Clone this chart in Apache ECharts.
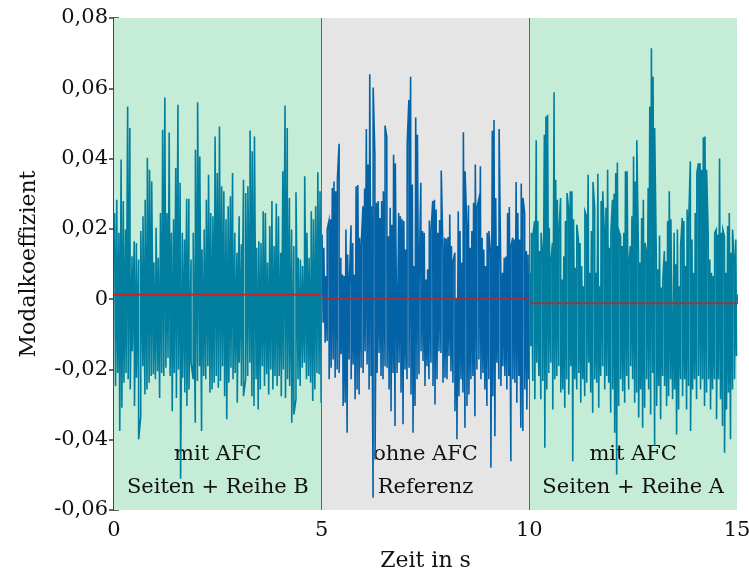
<!DOCTYPE html>
<html>
<head>
<meta charset="utf-8">
<title>Modalkoeffizient</title>
<script src="https://cdn.jsdelivr.net/npm/echarts@6/dist/echarts.min.js"></script>
<style>
  html, body { margin: 0; padding: 0; background: #ffffff; }
  #chart { width: 749px; height: 575px; }
</style>
</head>
<body>
<div id="chart"></div>
<script>
// Segment boundaries along the time axis (s)
const segmentBounds = [0, 5, 10, 15];
const segmentTop = ['mit AFC', 'ohne AFC', 'mit AFC'];
const segmentBottom = ['Seiten + Reihe B', 'Referenz', 'Seiten + Reihe A'];
const segmentFill = ['#c4ecd7', '#e5e5e5', '#c4ecd7'];
const segmentLine = ['#027f9f', '#0463a7', '#027f9f'];

// Mean value of the modal coefficient in each segment
const segmentMean = [0.0013, 0.0000, -0.0012];

// Y tick values
const yTicks = [-0.06, -0.04, -0.02, 0, 0.02, 0.04, 0.06, 0.08];

// Local maxima of the signal, segment 1 (0–5 s)
const peaksB = [0.0245, 0.0283, 0.0189, 0.0397, 0.0279, 0.0198, 0.0548, 0.0487, 0.0122, 0.0165,
  0.0160, 0.0113, 0.0194, 0.0236, 0.0283, 0.0402, 0.0368, 0.0335, 0.0104, 0.0203,
  0.0118, 0.0245, 0.0482, 0.0574, 0.0245, 0.0474, 0.0189, 0.0227, 0.0373, 0.0553,
  0.0331, 0.0189, 0.0170, 0.0286, 0.0286, 0.0113, 0.0189, 0.0425, 0.0560, 0.0406,
  0.0141, 0.0198, 0.0283, 0.0354, 0.0245, 0.0236, 0.0463, 0.0359, 0.0491, 0.0321,
  0.0307, 0.0227, 0.0264, 0.0293, 0.0359, 0.0189, 0.0132, 0.0236, 0.0156, 0.0340,
  0.0302, 0.0321, 0.0480, 0.0421, 0.0463, 0.0146, 0.0165, 0.0160, 0.0250, 0.0245,
  0.0104, 0.0208, 0.0279, 0.0151, 0.0272, 0.0236, 0.0132, 0.0364, 0.0551, 0.0487,
  0.0288, 0.0198, 0.0151, 0.0304, 0.0118, 0.0113, 0.0094, 0.0350, 0.0189, 0.0118,
  0.0250, 0.0227, 0.0264, 0.0361, 0.0307];

// Local minima of the signal, segment 1 (0–5 s)
const troughsB = [-0.0247, -0.0210, -0.0375, -0.0309, -0.0238, -0.0210, -0.0228, -0.0257, -0.0148, -0.0304,
  -0.0224, -0.0399, -0.0333, -0.0191, -0.0271, -0.0257, -0.0238, -0.0219, -0.0214, -0.0228,
  -0.0205, -0.0281, -0.0210, -0.0219, -0.0195, -0.0167, -0.0219, -0.0319, -0.0210, -0.0281,
  -0.0200, -0.0511, -0.0224, -0.0266, -0.0304, -0.0257, -0.0181, -0.0228, -0.0352, -0.0233,
  -0.0191, -0.0375, -0.0219, -0.0228, -0.0191, -0.0266, -0.0257, -0.0238, -0.0219, -0.0252,
  -0.0233, -0.0191, -0.0276, -0.0342, -0.0238, -0.0195, -0.0228, -0.0210, -0.0295, -0.0181,
  -0.0247, -0.0276, -0.0228, -0.0219, -0.0181, -0.0276, -0.0304, -0.0228, -0.0314, -0.0257,
  -0.0191, -0.0247, -0.0214, -0.0271, -0.0200, -0.0257, -0.0219, -0.0247, -0.0219, -0.0276,
  -0.0200, -0.0281, -0.0228, -0.0247, -0.0352, -0.0328, -0.0285, -0.0228, -0.0247, -0.0195,
  -0.0181, -0.0228, -0.0219, -0.0238, -0.0290, -0.0257, -0.0210, -0.0214, -0.0295];

// Local maxima, segment 2 (5–10 s, reference without AFC)
const peaksRef = [0.0184, 0.0146, 0.0066, 0.0198, 0.0222, 0.0227, 0.0316, 0.0335, 0.0307, 0.0343,
  0.0442, 0.0118, 0.0070, 0.0066, 0.0198, 0.0127, 0.0042, 0.0210, 0.0160, 0.0070,
  0.0321, 0.0325, 0.0175, 0.0153, 0.0264, 0.0315, 0.0484, 0.0383, 0.0640, 0.0264,
  0.0602, 0.0414, 0.0274, 0.0279, 0.0231, 0.0279, 0.0307, 0.0494, 0.0461, 0.0179,
  0.0260, 0.0212, 0.0411, 0.0387, 0.0390, 0.0245, 0.0236, 0.0227, 0.0222, 0.0141,
  0.0444, 0.0567, 0.0633, 0.0326, 0.0094, 0.0517, 0.0468, 0.0042, 0.0331, 0.0194,
  0.0189, 0.0056, 0.0085, 0.0224, 0.0194, 0.0279, 0.0283, 0.0255, 0.0189, 0.0225,
  0.0366, 0.0132, 0.0175, 0.0172, 0.0177, 0.0241, 0.0151, 0.0108, 0.0132, 0.0004,
  0.0250, 0.0194, 0.0104, 0.0475, 0.0364, 0.0208, 0.0267, 0.0146, 0.0194, 0.0274,
  0.0383, 0.0260, 0.0283, 0.0378, 0.0175, 0.0141, 0.0094, 0.0189, 0.0194, 0.0127,
  0.0479, 0.0510, 0.0288, 0.0151, 0.0484, 0.0066, 0.0075, 0.0118, 0.0121, 0.0245,
  0.0262, 0.0151, 0.0175, 0.0170, 0.0333, 0.0245, 0.0170, 0.0329, 0.0288, 0.0245,
  0.0137, 0.0127];

// Local minima, segment 2 (5–10 s)
const troughsRef = [-0.0067, -0.0124, -0.0119, -0.0228, -0.0195, -0.0172, -0.0224, -0.0200, -0.0210, -0.0157,
  -0.0304, -0.0295, -0.0380, -0.0172, -0.0228, -0.0186, -0.0285, -0.0257, -0.0271, -0.0195,
  -0.0210, -0.0148, -0.0186, -0.0257, -0.0219, -0.0565, -0.0456, -0.0210, -0.0153, -0.0219,
  -0.0228, -0.0191, -0.0195, -0.0257, -0.0319, -0.0210, -0.0361, -0.0210, -0.0181, -0.0266,
  -0.0356, -0.0200, -0.0228, -0.0195, -0.0271, -0.0380, -0.0304, -0.0228, -0.0214, -0.0148,
  -0.0176, -0.0247, -0.0191, -0.0228, -0.0181, -0.0247, -0.0300, -0.0228, -0.0148, -0.0153,
  -0.0238, -0.0224, -0.0228, -0.0162, -0.0205, -0.0238, -0.0319, -0.0399, -0.0276, -0.0228,
  -0.0266, -0.0366, -0.0304, -0.0271, -0.0228, -0.0219, -0.0333, -0.0200, -0.0172, -0.0228,
  -0.0210, -0.0257, -0.0304, -0.0228, -0.0480, -0.0276, -0.0390, -0.0181, -0.0228, -0.0247,
  -0.0191, -0.0219, -0.0257, -0.0219, -0.0461, -0.0228, -0.0238, -0.0295, -0.0219, -0.0366,
  -0.0375, -0.0257, -0.0314, -0.0228];

// Local maxima, segment 3 (10–15 s)
const peaksA = [0.0075, 0.0189, 0.0184, 0.0222, 0.0452, 0.0222, 0.0137, 0.0189, 0.0113, 0.0468,
  0.0520, 0.0525, 0.0203, 0.0104, 0.0160, 0.0589, 0.0340, 0.0283, 0.0189, 0.0288,
  0.0056, 0.0122, 0.0222, 0.0302, 0.0255, 0.0307, 0.0307, 0.0227, 0.0089, 0.0212,
  0.0170, 0.0160, 0.0094, 0.0037, 0.0250, 0.0236, 0.0354, 0.0075, 0.0194, 0.0333,
  0.0260, 0.0075, 0.0357, 0.0037, 0.0279, 0.0307, 0.0189, 0.0260, 0.0368, 0.0146,
  0.0189, 0.0283, 0.0300, 0.0359, 0.0389, 0.0194, 0.0179, 0.0151, 0.0189, 0.0364,
  0.0364, 0.0094, 0.0151, 0.0236, 0.0406, 0.0335, 0.0452, 0.0132, 0.0104, 0.0231,
  0.0283, 0.0160, 0.0132, 0.0316, 0.0548, 0.0714, 0.0633, 0.0487, 0.0127, 0.0085,
  0.0181, 0.0033, 0.0056, 0.0137, 0.0108, 0.0222, 0.0307, 0.0227, 0.0231, 0.0189,
  0.0099, 0.0198, 0.0037, 0.0151, 0.0231, 0.0222, 0.0094, 0.0255, 0.0227, 0.0392,
  0.0170, 0.0075, 0.0245, 0.0359, 0.0387, 0.0387, 0.0368, 0.0461, 0.0463, 0.0368,
  0.0184, 0.0113, 0.0075, 0.0066, 0.0189, 0.0198, 0.0184, 0.0400, 0.0189, 0.0198,
  0.0179, 0.0075, 0.0208, 0.0245, 0.0132, 0.0198, 0.0113, 0.0170];

// Local minima, segment 3 (10–15 s)
const troughsA = [-0.0134, -0.0233, -0.0285, -0.0181, -0.0219, -0.0285, -0.0233, -0.0423, -0.0257, -0.0210,
  -0.0181, -0.0314, -0.0228, -0.0219, -0.0191, -0.0266, -0.0257, -0.0309, -0.0228, -0.0271,
  -0.0191, -0.0461, -0.0228, -0.0257, -0.0210, -0.0295, -0.0228, -0.0276, -0.0238, -0.0181,
  -0.0266, -0.0323, -0.0228, -0.0238, -0.0309, -0.0219, -0.0191, -0.0257, -0.0219, -0.0238,
  -0.0323, -0.0257, -0.0380, -0.0499, -0.0304, -0.0228, -0.0262, -0.0295, -0.0219, -0.0257,
  -0.0191, -0.0228, -0.0295, -0.0266, -0.0337, -0.0257, -0.0366, -0.0309, -0.0228, -0.0257,
  -0.0328, -0.0210, -0.0418, -0.0304, -0.0247, -0.0342, -0.0219, -0.0247, -0.0304, -0.0276,
  -0.0228, -0.0285, -0.0257, -0.0385, -0.0314, -0.0228, -0.0276, -0.0228, -0.0314, -0.0247,
  -0.0375, -0.0257, -0.0228, -0.0285, -0.0219, -0.0257, -0.0228, -0.0304, -0.0266, -0.0228,
  -0.0314, -0.0257, -0.0228, -0.0342, -0.0228, -0.0285, -0.0361, -0.0437, -0.0314, -0.0266,
  -0.0399, -0.0257, -0.0228, -0.0162];

const segmentPeaks = [peaksB, peaksRef, peaksA];
const segmentTroughs = [troughsB, troughsRef, troughsA];

// Put the maxima and minima of a segment on a common time grid and interleave them
function segmentSeries(k) {
  const t0 = segmentBounds[k], t1 = segmentBounds[k + 1];
  const span = t1 - t0;
  const hi = segmentPeaks[k], lo = segmentTroughs[k];
  const pts = hi.map((v, i) => [t0 + (i + 0.25) * span / hi.length, v])
    .concat(lo.map((v, i) => [t0 + (i + 0.75) * span / lo.length, v]));
  pts.sort((a, b) => a[0] - b[0]);
  return pts;
}

const FONT = 'DejaVu Serif';
const AXIS_COLOR = '#333c36';

const fmtTick = v => (Math.abs(v) < 1e-9 ? '0' : v.toFixed(2).replace('.', ','));

const series = [];

// Background bands and separators
series.push({
  type: 'line',
  data: [],
  z: 0,
  silent: true,
  markArea: {
    silent: true,
    data: segmentFill.map((c, k) => [
      { xAxis: segmentBounds[k], itemStyle: { color: c } },
      { xAxis: segmentBounds[k + 1] }
    ])
  },
  markLine: {
    silent: true,
    symbol: 'none',
    label: { show: false },
    lineStyle: { color: '#666666', width: 1, type: 'solid' },
    data: segmentBounds.slice(1, -1).map(b => ({ xAxis: b }))
  }
});

// Signal, one series per segment
for (let k = 0; k < 3; k++) {
  series.push({
    type: 'line',
    data: segmentSeries(k),
    showSymbol: false,
    symbol: 'none',
    sampling: null,
    z: 2,
    lineStyle: { color: segmentLine[k], width: 1.6, join: 'miter' }
  });
}

// Segment means, drawn above the signal
for (let k = 0; k < 3; k++) {
  series.push({
    type: 'line',
    data: [[segmentBounds[k], segmentMean[k]], [segmentBounds[k + 1], segmentMean[k]]],
    showSymbol: false,
    symbol: 'none',
    z: 4,
    zlevel: 0,
    lineStyle: { color: '#d0201a', width: 1.8 }
  });
}

// Segment captions
series.push({
  type: 'line',
  data: [],
  z: 5,
  silent: true,
  markArea: {
    silent: true,
    itemStyle: { color: 'rgba(0,0,0,0)' },
    label: {
      show: true,
      position: 'insideBottom',
      distance: 6,
      fontFamily: FONT,
      fontSize: 21,
      lineHeight: 33,
      color: '#111111',
      align: 'center'
    },
    data: segmentTop.map((t, k) => [
      { xAxis: segmentBounds[k], name: t + '\n' + segmentBottom[k] },
      { xAxis: segmentBounds[k + 1] }
    ])
  }
});

const chart = echarts.init(document.getElementById('chart'), null, { renderer: 'canvas' });
chart.setOption({
  animation: false,
  backgroundColor: '#ffffff',
  grid: { left: 114, right: 12, top: 18, bottom: 65, containLabel: false, outerBoundsMode: 'none' },
  xAxis: [{
    type: 'value',
    min: segmentBounds[0],
    max: segmentBounds[segmentBounds.length - 1],
    interval: 5,
    name: 'Zeit in s',
    nameLocation: 'middle',
    nameGap: 40,
    nameTextStyle: { fontFamily: FONT, fontSize: 22, color: '#111111' },
    axisLine: { show: true, lineStyle: { color: AXIS_COLOR, width: 1.5 } },
    axisTick: { show: true, inside: true, length: 5, lineStyle: { color: AXIS_COLOR, width: 1.5 } },
    axisLabel: { fontFamily: FONT, fontSize: 21, color: '#111111', margin: 10 },
    splitLine: { show: false }
  }, {
    type: 'value',
    position: 'top',
    min: segmentBounds[0],
    max: segmentBounds[segmentBounds.length - 1],
    interval: 5,
    axisLine: { show: true, lineStyle: { color: AXIS_COLOR, width: 1.5 } },
    axisTick: { show: true, inside: true, length: 5, lineStyle: { color: AXIS_COLOR, width: 1.5 } },
    axisLabel: { show: false },
    splitLine: { show: false }
  }],
  yAxis: [{
    type: 'value',
    min: yTicks[0],
    max: yTicks[yTicks.length - 1],
    interval: 0.02,
    name: 'Modalkoeffizient',
    nameLocation: 'middle',
    nameGap: 74,
    nameTextStyle: { fontFamily: FONT, fontSize: 22, color: '#111111' },
    axisLine: { show: true, lineStyle: { color: AXIS_COLOR, width: 1.5 } },
    axisTick: { show: true, inside: true, length: 5, lineStyle: { color: AXIS_COLOR, width: 1.5 } },
    axisLabel: { fontFamily: FONT, fontSize: 21, color: '#111111', margin: 6, formatter: fmtTick },
    splitLine: { show: false }
  }, {
    type: 'value',
    position: 'right',
    min: yTicks[0],
    max: yTicks[yTicks.length - 1],
    interval: 0.02,
    axisLine: { show: true, lineStyle: { color: AXIS_COLOR, width: 1.5 } },
    axisTick: { show: true, inside: true, length: 5, lineStyle: { color: AXIS_COLOR, width: 1.5 } },
    axisLabel: { show: false },
    splitLine: { show: false }
  }],
  series: series
});
</script>
</body>
</html>
